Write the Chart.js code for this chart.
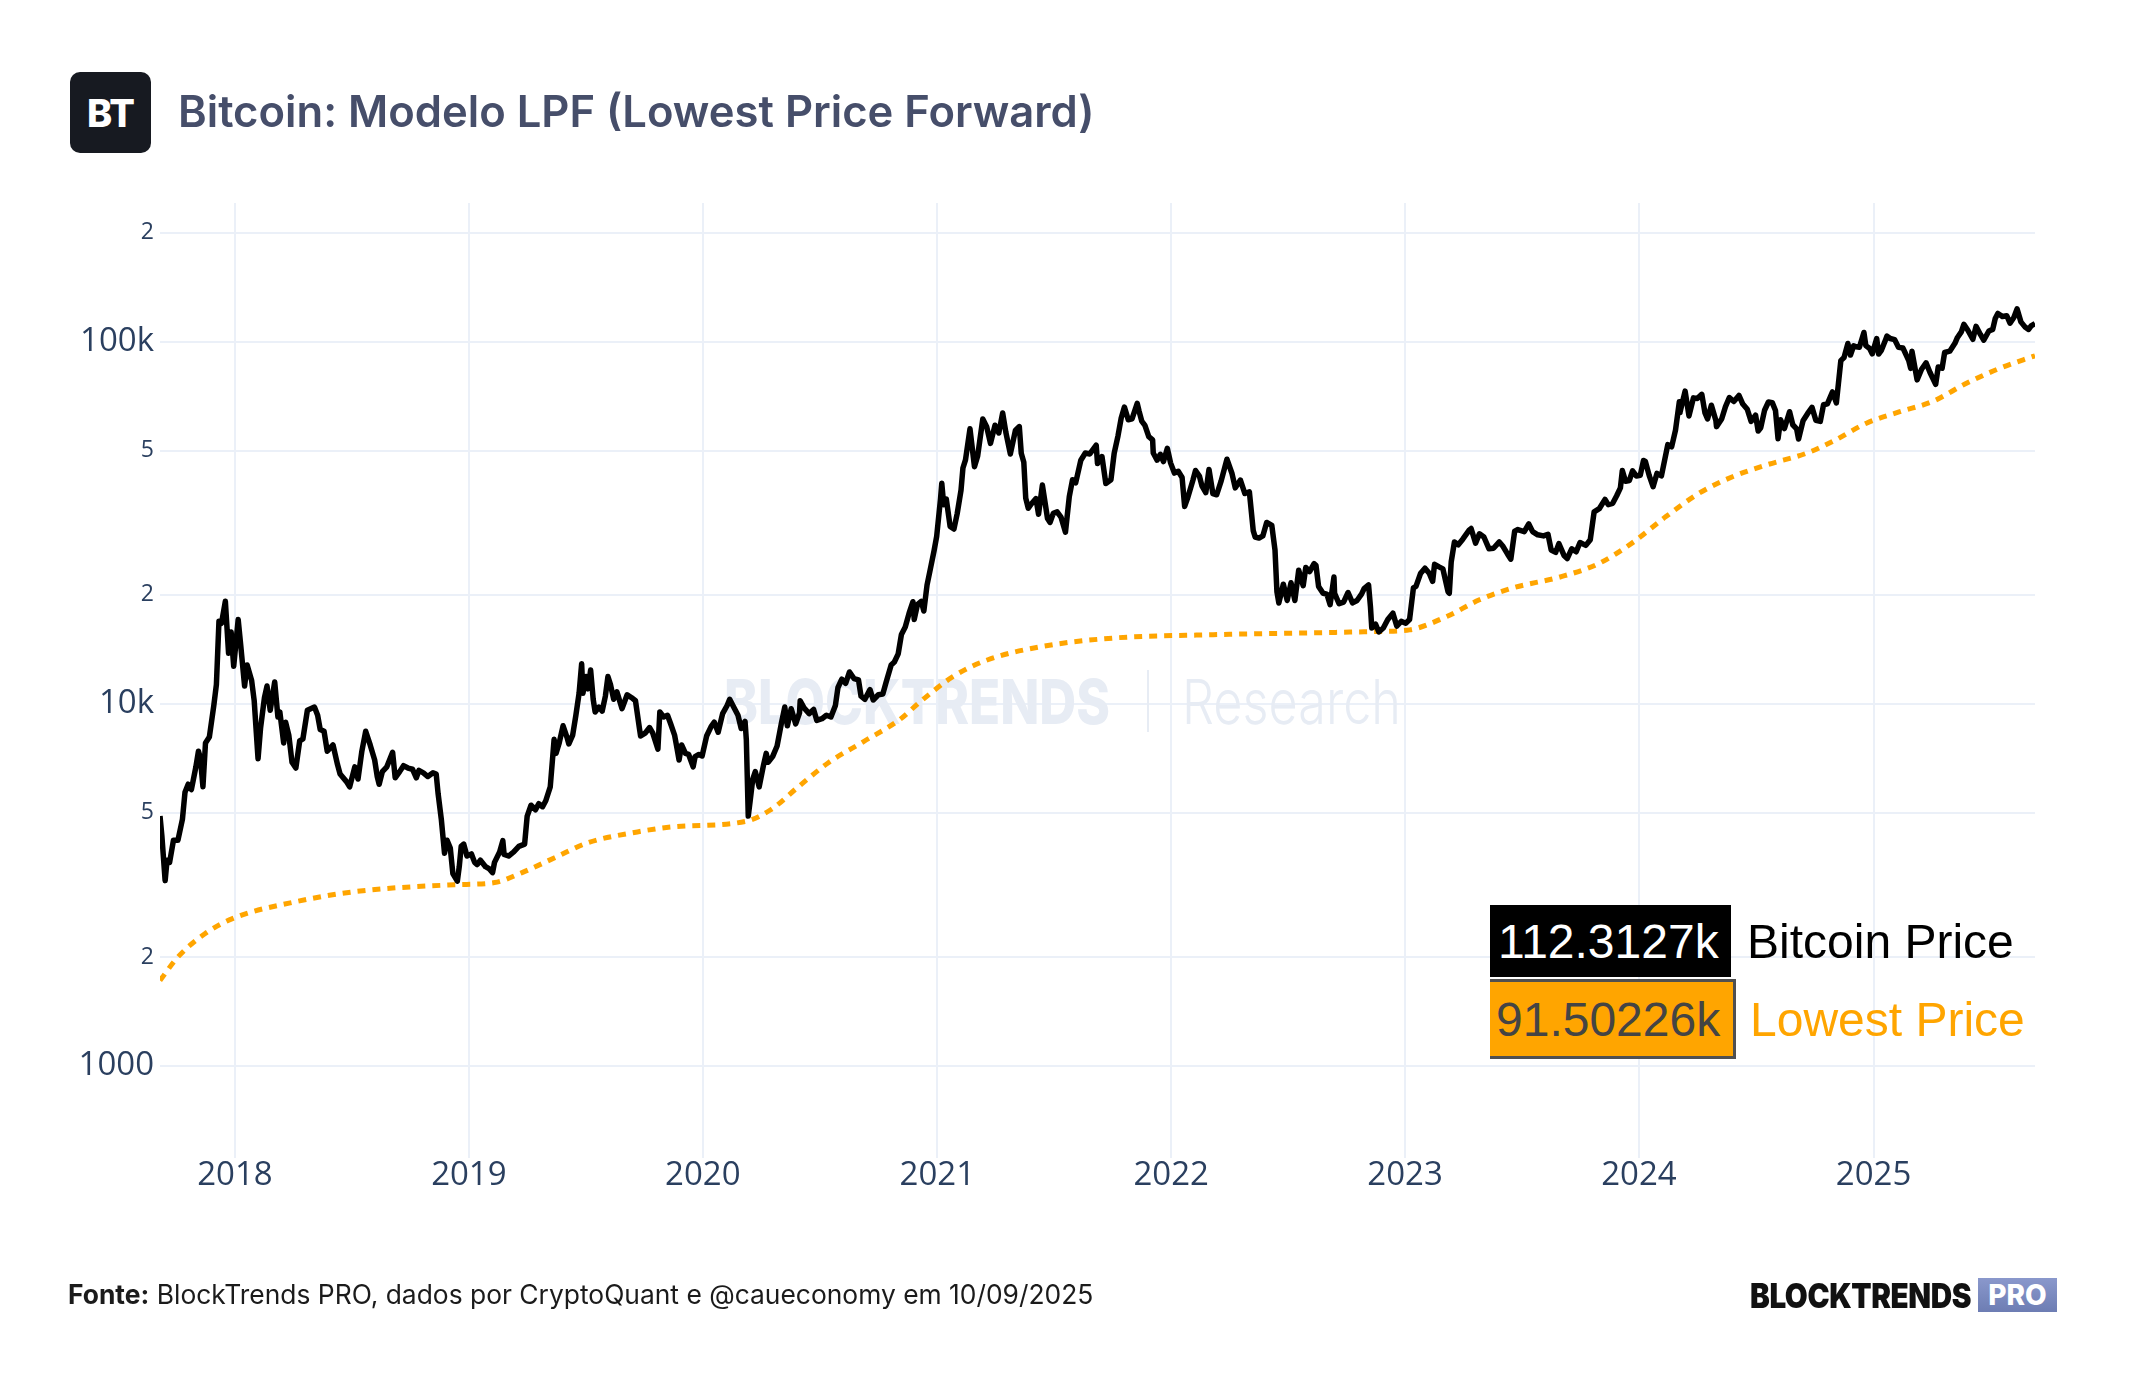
<!DOCTYPE html>
<html><head><meta charset="utf-8">
<script src="https://cdn.jsdelivr.net/npm/chart.js@4.4.1/dist/chart.umd.min.js"></script>
<style>
html,body{margin:0;padding:0;background:#fff;}
#wrap{position:relative;width:2144px;height:1400px;overflow:hidden;background:#fff;}
#c{position:absolute;left:0;top:0;}
.abs{position:absolute;white-space:nowrap;}
#logo{left:70px;top:72px;width:81px;height:81px;background:#171a21;border-radius:10px;color:#fff;font:800 38px Inter;display:flex;align-items:center;justify-content:center;letter-spacing:-1px;}
#title{left:178px;top:90px;font:600 43.6px Inter;line-height:43px;color:#464e6a;}
#footer{left:68px;top:1281px;font:400 26.4px Inter;line-height:26px;color:#1b1b1b;}
#footer b{font-weight:700;}
#brand{left:1750px;top:1279px;font:900 34px Inter;line-height:34px;color:#111;transform-origin:0 0;letter-spacing:-0.5px;}
#pro{left:1978px;top:1278px;width:79px;height:34px;background:linear-gradient(#8a98cc,#6d7db3);color:#fff;font:800 28px Inter;display:flex;align-items:center;justify-content:center;}
.lgbox{display:flex;align-items:center;font-family:"Liberation Sans",Arial,sans-serif;font-size:48px;}
#lg1{left:1490px;top:905px;height:72px;width:241px;background:#000;color:#fff;padding-left:8px;box-sizing:border-box;}
#lg1t{left:1747px;top:905px;height:72px;color:#000;}
#lg2{left:1490px;top:979px;height:80px;width:246px;background:#FFA500;color:#444;padding-left:6px;box-sizing:border-box;border:3px solid #505050;border-left:none;}
#lg2t{left:1750px;top:979px;height:80px;color:#FFA500;}
</style></head>
<body><div id="wrap">
<canvas id="c" width="2144" height="1400" style="width:2144px;height:1400px"></canvas>
<div id="logo" class="abs">BT</div>
<div id="title" class="abs">Bitcoin: Modelo LPF (Lowest Price Forward)</div>
<div id="footer" class="abs"><b>Fonte:</b> BlockTrends PRO, dados por CryptoQuant e @caueconomy em 10/09/2025</div>
<div id="brand" class="abs">BLOCKTRENDS</div>
<div id="pro" class="abs">PRO</div>
<div id="lg1" class="abs lgbox"></div>
<div id="lg1t" class="abs lgbox">Bitcoin Price</div>
<div id="lg2" class="abs lgbox"></div>
<div id="lg2t" class="abs lgbox">Lowest Price</div>
</div>
<script>
// ---------------- DATA ----------------
const btcDates2017 = ['09-06','09-09','09-14','09-17','09-21','09-27', '10-04','10-11','10-15','10-20','10-25', '11-01','11-05','11-08','11-12','11-16','11-22','11-29', '12-03','12-07','12-11','12-17','12-22','12-26','12-30'];
const btcPrices2017 = [4900,4300,3250,3700,3650,4200, 4200,4800,5700,6000,5800, 6700,7400,7100,5900,7800,8100,9900, 11300,16900,16700,19200,13800,15800,12700];

const btcDates2018 = ['01-06','01-10','01-16','01-20','01-27','01-31', '02-06','02-10','02-16','02-20','02-25', '03-04','03-09','03-12','03-18','03-21','03-26','03-31', '04-06','04-12','04-17','04-24', '05-05','05-10','05-14','05-20','05-25', '06-03','06-10','06-14','06-24','06-29', '07-07','07-12','07-18','07-24','07-31', '08-07','08-11','08-14','08-19','08-26', '09-04','09-08','09-15','09-21','09-28', '10-05','10-11','10-15','10-22','10-29', '11-06','11-11','11-14','11-19','11-24','11-28', '12-03','12-07','12-14','12-17','12-20','12-24','12-29'];
const btcPrices2018 = [17100,14500,11200,12800,11600,10200, 7050,8600,10400,11200,9600, 11500,9200,9500,7800,8900,8200,6900, 6650,7900,8000,9600, 9800,9300,8500,8400,7400, 7700,6800,6400,6100,5900, 6700,6200,7400,8400,7700, 7000,6300,6000,6500,6700, 7350,6250,6500,6750,6650, 6600,6250,6550,6450,6300, 6450,6400,5650,4800,3870,4200, 4000,3400,3240,3550,4040,4100,3800];

const btcDates2019 = ['01-05','01-10','01-14','01-19','01-27', '02-02','02-07','02-10','02-18','02-23','02-25', '03-04','03-12','03-20','03-29', '04-02','04-08','04-15','04-20','04-26', '05-01','05-08','05-12','05-14','05-17','05-22','05-28', '06-03','06-06','06-12','06-17','06-22','06-26','06-28', '07-03','07-06','07-10','07-14','07-17','07-23','07-28', '08-02','08-06','08-10','08-15','08-20','08-28', '09-05','09-12','09-18','09-24','09-26', '10-03','10-10','10-15','10-23','10-26', '11-01','11-07','11-12','11-18','11-22','11-25','11-29', '12-05','12-10','12-17','12-20','12-26','12-31'];
const btcPrices2019 = [3850,3650,3600,3700,3550, 3500,3420,3650,3900,4190,3840, 3800,3900,4040,4100, 4900,5250,5100,5300,5200, 5400,5900,7200,7980,7300,7800,8700, 8100,7750,8200,9300,10700,12900,10700, 11900,11000,12400,10300,9500,9800,9550, 10500,11900,11300,10300,10800,9700, 10600,10400,10200,8600,8150, 8300,8600,8300,7500,9500, 9200,9300,8800,8200,7500,7000,7700, 7300,7250,6700,7150,7250,7180];

const btcDates2020 = ['01-07','01-14','01-19','01-25', '02-01','02-08','02-12','02-17','02-25', '03-01','03-07','03-09','03-12','03-15','03-19','03-23','03-29', '04-05','04-09','04-12','04-19','04-26', '05-03','05-08','05-12','05-18','05-25','05-31', '06-01','06-07','06-15','06-22','06-27', '07-05','07-12','07-19','07-26','07-30', '08-05','08-11','08-17','08-24','08-31', '09-04','09-10','09-18','09-23', '10-01','10-08','10-13','10-21','10-26', '11-01','11-06','11-12','11-18','11-24','11-26', '12-01','12-07','12-11','12-16','12-21','12-27','12-31'];
const btcPrices2020 = [8150,8650,8900,8350, 9400,9900,10300,9900,9300, 8550,8950,7950,4900,5400,6200,6500,5900, 6800,7300,6900,7150,7650, 8900,9800,8700,9700,8800,9450, 10200,9750,9400,9650,9000, 9100,9300,9200,9900,11100, 11700,11400,12250,11750,11650, 10500,10300,10950,10250, 10600,10650,11450,12800,13050, 13750,15550,16300,17800,19150,17100, 18800,19200,18050,21300,23500,26500,29000];

const btcDates2021 = ['01-06','01-08','01-11','01-15','01-21','01-27', '02-01','02-07','02-10','02-14','02-21','02-28', '03-05','03-13','03-19','03-25', '04-01','04-07','04-13','04-18','04-25', '05-03','05-09','05-12','05-16','05-19','05-23','05-28', '06-04','06-08','06-14','06-22','06-26', '07-01','07-07','07-13','07-20','07-26','07-31', '08-05','08-13','08-20','08-27', '09-06','09-08','09-15','09-21','09-29', '10-04','10-10','10-15','10-20','10-26', '11-01','11-09','11-12','11-16','11-21','11-27', '12-03','12-04','12-10','12-15','12-20','12-26','12-31'];
const btcPrices2021 = [36800,40700,35500,36800,30900,30400, 33500,38900,44800,47200,57500,45200, 48400,61200,58300,52400, 58800,56000,63600,56200,49000, 57000,58300,49200,46500,37000,34700,35700, 36900,33400,40200,32500,31700, 33600,33900,32800,29800,37400,41600, 40800,47100,49300,49000, 51800,46100,48200,40600,41600, 49200,55000,61600,66000,60900, 61300,67600,64200,60400,58800,54700, 53600,49300,47100,48900,46700,50800,46300];

const btcDates2022 = ['01-06','01-12','01-18','01-22','01-27', '02-04','02-08','02-14','02-18','02-24', '03-01','03-07','03-13','03-20','03-29', '04-06','04-11','04-19','04-26', '05-03','05-09','05-12','05-18','05-24','05-30', '06-07','06-12','06-15','06-18','06-25', '07-01','07-07','07-13','07-19','07-26','07-30', '08-05','08-12','08-15','08-19','08-26', '09-01','09-06','09-12','09-13','09-20','09-27', '10-04','10-11','10-18','10-25','10-29', '11-05','11-08','11-10','11-16','11-21','11-28', '12-05','12-13','12-19','12-26'];
const btcPrices2022 = [43400,43900,42200,35100,37200, 41500,44100,42600,40000,38300, 44400,38100,37800,41300,47400, 43200,39500,41500,38100, 38500,30100,28900,28700,29100,31700, 31100,26600,20400,19000,21400, 19300,21600,19300,23400,21200,23800, 23200,24400,24100,21100,20200, 20100,18800,22400,20200,18900,19100, 20300,19000,19300,20100,20800, 21300,18500,16200,16600,15800,16200, 17100,17800,16400,16900];

const btcDates2023 = ['01-02','01-08','01-14','01-18','01-25', '02-01','02-08','02-13','02-16','02-23', '03-01','03-09','03-11','03-14','03-19','03-25', '04-01','04-11','04-14','04-21','04-27', '05-04','05-12','05-19','05-28', '06-03','06-10','06-15','06-21','06-26', '07-06','07-13','07-19','07-27', '08-05','08-12','08-17','08-24','08-29', '09-06','09-11','09-18','09-25', '10-01','10-10','10-17','10-23','10-31', '11-09','11-14','11-21','11-27', '12-03','12-06','12-11','12-17','12-22','12-28'];
const btcPrices2023 = [16700,17100,20900,21100,22900, 23700,22900,21800,24300,23900, 23600,20400,20200,24700,28000,27500, 28500,30200,30500,27800,29500, 28900,26800,26900,28000, 27200,25900,25100,30000,30300, 29900,31400,29900,29300, 29100,29400,26600,26200,27700, 25700,25200,26800,26300, 27900,27400,28400,33900,34600, 36700,35500,35800,37500, 39500,44100,41200,41400,44000,42600];

const btcDates2024 = ['01-03','01-08','01-11','01-17','01-23','01-29', '02-05','02-10','02-15','02-21','02-27', '03-04','03-05','03-13','03-19','03-26', '04-01','04-08','04-13','04-17','04-23','04-30', '05-01','05-09','05-15','05-21','05-28', '06-05','06-11','06-18','06-24', '07-01','07-05','07-09','07-15','07-21','07-27', '08-01','08-05','08-09','08-15','08-23','08-28', '09-03','09-06','09-13','09-20','09-27', '10-03','10-10','10-15','10-21','10-29', '11-04','11-07','11-11','11-16','11-22','11-26', '12-01','12-05','12-10','12-17','12-20','12-26','12-30'];
const btcPrices2024 = [42800,47000,46700,42700,39800,43300, 42600,47100,52000,51300,57000, 68300,63800,73100,62400,70000, 69700,71600,63600,61200,66800,60600, 58300,61200,66200,70100,68400, 71100,67300,65100,60300, 62700,56700,57900,64700,68200,67900, 64600,54000,60900,57600,64100,59000, 57500,53900,60500,63300,65900, 60700,60300,67000,67400,72700, 67800,76000,88700,90500,98900,91900, 97500,96900,96600,106100,97600,95800,92600];

const btcDates2025 = ['01-06','01-09','01-13','01-20','01-22','01-27', '02-03','02-09','02-16','02-25','02-28', '03-02','03-10','03-17','03-24','03-30', '04-08','04-12','04-18','04-22','04-30', '05-08','05-12','05-18','05-22','05-28', '06-05','06-10','06-17','06-22','06-30', '07-06','07-10','07-14','07-21','07-28', '08-02','08-08','08-13','08-19','08-25','08-31', '09-04','09-10'];
const btcPrices2025 = [102100,92500,94500,101500,103700,102100, 101400,96500,96100,88700,84400, 94200,78500,84000,87500,82400, 76300,85200,84500,93400,94200, 99000,102800,106500,111700,107800, 101600,110300,104600,101000,107100, 108200,116000,119800,117400,118000, 112500,116700,123300,113500,110100,108200, 110700,112312.7];

const lpfDates = ['2017-09-06','2017-10-04','2017-11-15','2018-01-01','2018-04-01','2018-07-07','2018-12-09','2019-02-10','2019-03-25','2019-05-15','2019-07-05','2019-09-21','2019-11-18','2020-03-07','2020-04-16','2020-05-30','2020-07-15','2020-09-08','2020-11-03','2020-12-06','2021-01-26','2021-03-21','2021-06-13','2021-10-03','2022-02-24','2022-11-21','2023-01-08','2023-03-07','2023-04-27','2023-06-17','2023-09-03','2023-10-30','2023-12-21','2024-02-12','2024-04-04','2024-05-26','2024-07-18','2024-09-18','2024-10-29','2024-12-21','2025-02-11','2025-04-03','2025-05-26','2025-07-17','2025-09-10'];
const lpfValues = [1722,2000,2318,2570,2830,3030,3166,3210,3420,3760,4130,4430,4580,4734,5100,5920,6880,7870,9040,10160,11910,13240,14400,15200,15510,15850,16010,17430,19380,20880,22490,24400,27800,32900,38200,42400,45700,49200,53000,59600,64100,68400,76800,84500,91502.26];

const xTickYears = [2018,2019,2020,2021,2022,2023,2024,2025];
const yTickValues = [1000,2000,5000,10000,20000,50000,100000,200000];
const yTickLabels = ['1000','2','5','10k','2','5','100k','2'];
const yMajorTicks = [1000,10000,100000];
const xStart = '2017-09-06', xEnd = '2025-09-10';
const yMin = 557, yMax = 241700;
const seriesNames = ['Bitcoin Price','Lowest Price'];

// ---------------- BUILD ----------------
const ms = s => Date.parse(s + 'T00:00:00Z');
const yearsData = [
  [2017, btcDates2017, btcPrices2017],[2018, btcDates2018, btcPrices2018],[2019, btcDates2019, btcPrices2019],
  [2020, btcDates2020, btcPrices2020],[2021, btcDates2021, btcPrices2021],[2022, btcDates2022, btcPrices2022],
  [2023, btcDates2023, btcPrices2023],[2024, btcDates2024, btcPrices2024],[2025, btcDates2025, btcPrices2025]];
const btcPoints = [];
yearsData.forEach(([yr, d, p]) => {
  if (d.length !== p.length) throw new Error('length mismatch ' + yr + ' ' + d.length + ' vs ' + p.length);
  d.forEach((md, i) => btcPoints.push({x: ms(yr + '-' + md), y: p[i]}));
});
if (lpfDates.length !== lpfValues.length) throw new Error('lpf mismatch');
const lpfPoints = lpfDates.map((d, i) => ({x: ms(d), y: lpfValues[i]}));

const fmtK = v => (v / 1000).toPrecision(7) + 'k';
document.getElementById('lg1').textContent = fmtK(btcPrices2025[btcPrices2025.length - 1]);
document.getElementById('lg2').textContent = fmtK(lpfValues[lpfValues.length - 1]);
document.getElementById('lg1t').textContent = seriesNames[0];
document.getElementById('lg2t').textContent = seriesNames[1];

function fitBrand(){
  const b = document.getElementById('brand');
  b.style.transform = 'none';
  const w = b.getBoundingClientRect().width;
  b.style.transform = 'scaleX(' + (221 / w) + ')';
}
fitBrand();
if (document.fonts && document.fonts.ready) document.fonts.ready.then(fitBrand);

const watermark = {
  id: 'watermark',
  beforeDatasetsDraw(chart) {
    const ctx = chart.ctx;
    ctx.save();
    ctx.fillStyle = '#e7ecf4';
    ctx.textBaseline = 'alphabetic';
    ctx.font = '800 62px Inter';
    let t = 'BLOCKTRENDS', w = ctx.measureText(t).width;
    ctx.save(); ctx.translate(724, 724); ctx.scale(386 / w, 1); ctx.fillText(t, 0, 0); ctx.restore();
    ctx.fillRect(1147, 670, 2, 62);
    ctx.font = '300 62px Inter';
    t = 'Research'; w = ctx.measureText(t).width;
    ctx.save(); ctx.translate(1182, 724); ctx.scale(219 / w, 1); ctx.fillText(t, 0, 0); ctx.restore();
    ctx.restore();
  }
};

new Chart(document.getElementById('c'), {
  type: 'line',
  data: {
    datasets: [
      {label: seriesNames[0], data: btcPoints, borderColor: '#000', borderWidth: 5.5, pointRadius: 0, tension: 0, order: 0, borderJoinStyle: 'round'},
      {label: seriesNames[1], data: lpfPoints, borderColor: '#FFA500', borderWidth: 5, borderDash: [8, 7], pointRadius: 0, cubicInterpolationMode: 'monotone', order: 1, borderCapStyle: 'butt'}
    ]
  },
  options: {
    responsive: false, animation: false, devicePixelRatio: 1,
    layout: {padding: {top: 203, right: 109, left: 0, bottom: 0}},
    plugins: {legend: {display: false}, tooltip: {enabled: false}},
    scales: {
      x: {
        type: 'linear', min: ms(xStart), max: ms(xEnd),
        afterBuildTicks: s => { s.ticks = xTickYears.map(y => ({value: Date.UTC(y, 0, 1)})); },
        afterFit: s => { s.height = 242; },
        ticks: {autoSkip: false, maxRotation: 0, padding: -2, color: '#2a3f5f', font: {family: 'Open Sans', size: 33},
                callback: v => String(new Date(v).getUTCFullYear())},
        grid: {color: '#ebf0f8', lineWidth: 2, drawTicks: false},
        border: {display: false}
      },
      y: {
        type: 'logarithmic', min: yMin, max: yMax, position: 'left',
        afterBuildTicks: s => { s.ticks = yTickValues.map(v => ({value: v})); },
        afterFit: s => { s.width = 160; },
        ticks: {autoSkip: false, padding: 6, color: '#2a3f5f',
                font: ctx => ({family: 'Open Sans', size: (ctx.tick && yMajorTicks.includes(ctx.tick.value)) ? 33 : 23}),
                callback: v => yTickLabels[yTickValues.indexOf(v)]},
        grid: {color: '#ebf0f8', lineWidth: 2, drawTicks: false},
        border: {display: false}
      }
    }
  },
  plugins: [watermark]
});
</script>
</body></html>
